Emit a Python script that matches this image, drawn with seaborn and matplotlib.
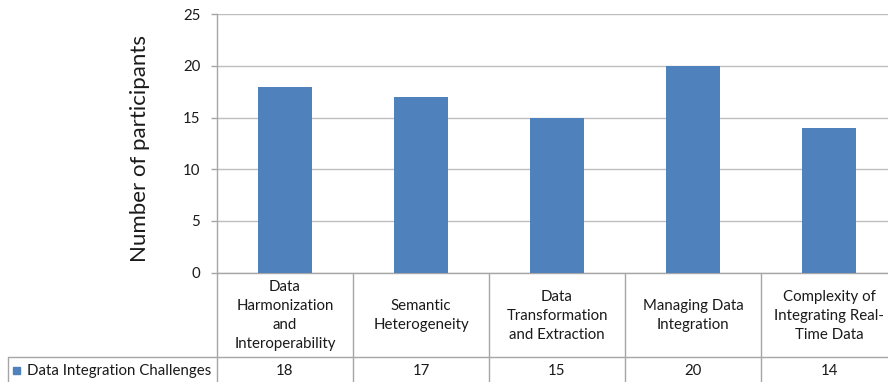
import matplotlib
matplotlib.use("Agg")
import matplotlib.pyplot as plt
import matplotlib.transforms as mtransforms
import seaborn as sns
import pandas as pd

# Survey results: data integration challenges
categories = [
    "Data\nHarmonization\nand\nInteroperability",
    "Semantic\nHeterogeneity",
    "Data\nTransformation\nand Extraction",
    "Managing Data\nIntegration",
    "Complexity of\nIntegrating Real-\nTime Data",
]
participants = [18, 17, 15, 20, 14]
series_name = "Data Integration Challenges"
y_label = "Number of participants"
y_ticks = [0, 5, 10, 15, 20, 25]

sns.set_theme(style="white")
plt.rcParams["font.family"] = ["Lato", "DejaVu Sans"]

W, H = 888, 382
BAR = "#4F81BD"
GRID = "#BDBDBD"
LINE = "#A6A6A6"
TXT = "#1A1A1A"
FS = 10.8

fig = plt.figure(figsize=(W / 100, H / 100), dpi=100)
fig.patch.set_facecolor("white")

def fx(px):
    return px / W

def fy(py):
    return 1 - py / H

# plot area in pixel terms
left, right, top, bottom = 217, 897, 14.2, 272.7
ax = fig.add_axes([fx(left), fy(bottom), fx(right - left), (bottom - top) / H])

df = pd.DataFrame({"category": categories, "value": participants})
sns.barplot(data=df, x="category", y="value", color=BAR, saturation=1,
            width=0.4, ax=ax, zorder=3, linewidth=0)
ax.set_xlim(-0.5, len(categories) - 0.5)
ax.set_ylim(0, 25)
ax.set_yticks(y_ticks)
ax.set_xticks([])
ax.set_xlabel("")
ax.set_ylabel("")
ax.yaxis.grid(True, color=GRID, linewidth=1, zorder=0)
for s in ["top", "right"]:
    ax.spines[s].set_visible(False)
ax.spines["left"].set_color(LINE)
ax.spines["bottom"].set_color(LINE)
ax.spines["left"].set_linewidth(1)
ax.spines["bottom"].set_linewidth(1)
ax.tick_params(axis="y", length=4, width=1, color=LINE, pad=8,
               labelsize=FS, labelcolor=TXT, left=True)

fig.text(fx(140), fy(148), y_label, rotation=90, ha="center", va="center",
         fontsize=16, color=TXT)

# data table beneath the axis
blend = mtransforms.blended_transform_factory(ax.transData, fig.transFigure)
row_sep = 357
n = len(categories)
for i in range(n + 1):
    ax.plot([i - 0.5, i - 0.5], [fy(bottom), fy(H + 5)], transform=blend,
            color=LINE, lw=1, clip_on=False)
fig.add_artist(plt.Line2D([fx(8), fx(W + 10)], [fy(row_sep), fy(row_sep)],
                          color=LINE, lw=1))
fig.add_artist(plt.Line2D([fx(8), fx(8)], [fy(row_sep), fy(H + 5)],
                          color=LINE, lw=1))

for i, (cat, val) in enumerate(zip(categories, participants)):
    ax.text(i, fy((bottom + row_sep) / 2 + 1), cat, transform=blend,
            ha="center", va="center", fontsize=FS, color=TXT,
            linespacing=1.45, clip_on=False)
    ax.text(i, fy(371), str(val), transform=blend, ha="center", va="center",
            fontsize=FS, color=TXT, clip_on=False)

fig.add_artist(plt.Rectangle((fx(13), fy(374)), fx(7), 7 / H, color=BAR))
fig.text(fx(27), fy(370.5), series_name, ha="left", va="center",
         fontsize=FS, color=TXT)

fig.savefig("out.png", dpi=100)
